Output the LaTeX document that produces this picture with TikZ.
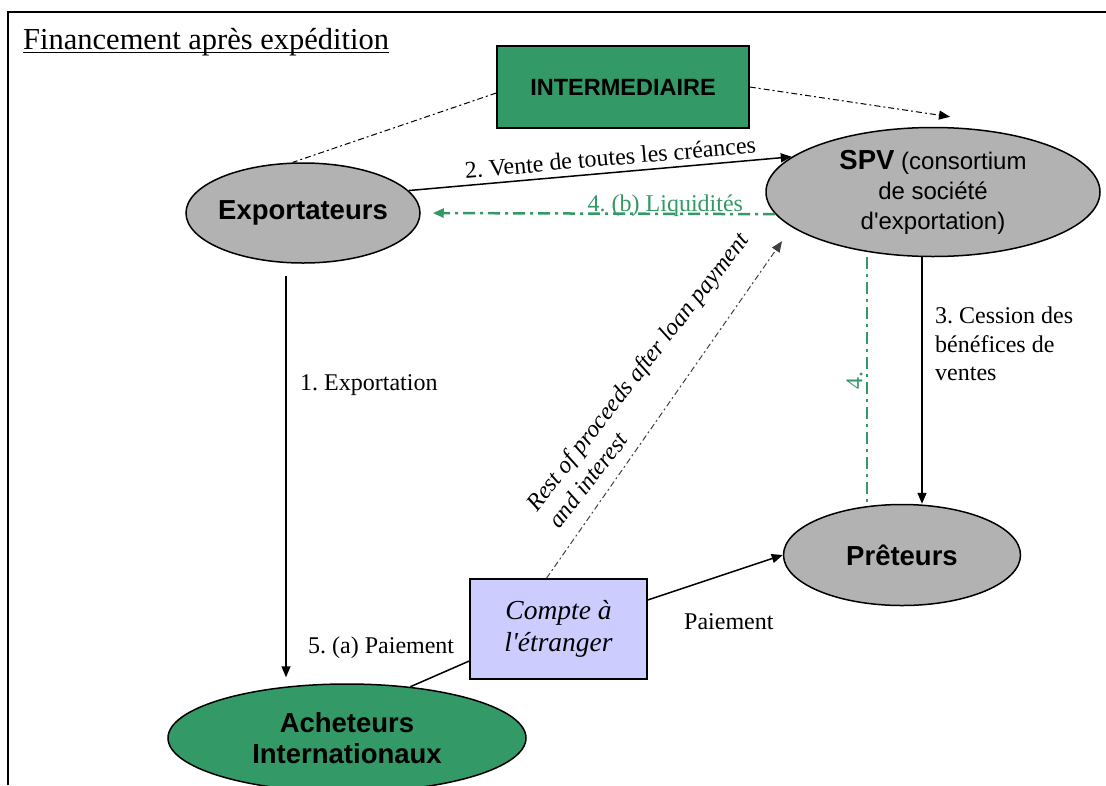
\documentclass[tikz,border=0pt]{standalone}
\usepackage{fontspec}
\setmainfont{Liberation Serif}
\setsansfont{Liberation Sans}
\usetikzlibrary{arrows.meta, shapes.geometric}
\definecolor{xlgreen}{RGB}{51,153,102}
\definecolor{xlgray}{RGB}{178,178,178}
\definecolor{xlblue}{RGB}{204,204,255}
\frenchspacing

\begin{document}
\begin{tikzpicture}[x=1pt,y=-1pt,>={Triangle[length=11pt,width=9pt]},
  oval node/.style={ellipse,draw,line width=1.5pt,fill=xlgray,inner sep=0pt,align=center,
    font=\sffamily\bfseries\fontsize{27.5}{31}\selectfont},
  box node/.style={rectangle,draw,line width=1.5pt,inner sep=0pt,align=center},
  flow/.style={->,line width=1.5pt},
  link/.style={-,line width=1.5pt},
  dotdash/.style={line width=1pt,dash pattern=on 6pt off 3pt on 2pt off 3pt},
  liq/.style={line width=2.5pt,xlgreen,dash pattern=on 12pt off 5pt on 3pt off 5pt},
  plain label/.style={font=\fontsize{24}{28.5}\selectfont,inner sep=0pt}]

    \useasboundingbox (0,0) rectangle (1106,785);
    \draw[line width=1.5pt] (8,785) -- (8,12) -- (1106,12);

    \node[anchor=base west, inner sep=0pt, font=\fontsize{30.5}{36}\selectfont] (title) at (23,49) {Financement après expédition};
    \draw[line width=1.2pt] ([yshift=-3.5pt]title.base west) -- ([yshift=-3.5pt]title.base east);

    \node[box node, fill=xlgreen, minimum width=252pt, minimum height=82pt,
      font=\sffamily\bfseries\fontsize{23.5}{28}\selectfont] (intermed) at (623,87) {INTERMEDIAIRE};
    \node[oval node, minimum width=234pt, minimum height=100pt, inner xsep=-10pt] (expo) at (303,213) {Exportateurs};
    \node[oval node, minimum width=334pt, minimum height=129pt, font=\sffamily\fontsize{24}{30}\selectfont] (spv) at (933,192)
      {{\bfseries\fontsize{27.5}{30}\selectfont SPV} (consortium\\de société\\d\textquotesingle exportation)};
    \node[oval node, minimum width=237pt, minimum height=101pt] (preteurs) at (902,555) {Prêteurs};
    \node[oval node, fill=xlgreen, minimum width=358pt, minimum height=108pt] (acheteurs) at (347,738) {Acheteurs\\Internationaux};
    \node[box node, fill=xlblue, minimum width=177pt, minimum height=100pt,
      font=\itshape\fontsize{27.5}{32}\selectfont] (compte) at (558.5,629) {Compte à\\l\textquotesingle étranger};

    \draw[dotdash] ([yshift=-6pt]intermed.west) -- ([xshift=-10pt]expo.north);
    \draw[dotdash, ->] (intermed.east) -- ([shift={(17pt,10pt)}]spv.north);

    \draw[flow] (expo.12) -- node[plain label, above=6pt, sloped, pos=0.53] {2. Vente de toutes les créances} (spv.166);
    \draw[liq, ->, shorten >=12pt] (spv.188) -- node[plain label, pos=0.31, anchor=base, yshift=2pt, text=xlgreen] {4. (b) Liquidités} (expo.east);

    \draw[flow, shorten >=6pt] ([xshift=-17pt,yshift=-12pt]expo.south) -- ([xshift=-17pt]expo.south |- acheteurs.north);
    \node[plain label, anchor=base west] (lexport) at (300,390) {1. Exportation};

    \draw[flow] ([xshift=-11pt]spv.south) -- ([xshift=-11pt]spv.south |- preteurs.north);
    \node[plain label, anchor=north west, align=left] (lcession) at (935,307) {3. Cession des\\bénéfices de\\ventes};
    \draw[liq] ([xshift=-66pt]spv.south) -- node[plain label, rotate=90, anchor=south, inner sep=3pt, text=xlgreen] {4.}
      ([xshift=-66pt]spv.south |- preteurs.north);

    \draw[dotdash, ->, black!75, shorten >=17pt] ([xshift=-12pt]compte.north) -- (spv.194);
    \node[plain label, font=\itshape\fontsize{24}{28}\selectfont, rotate=52, align=left] (lrest) at (648,380)
      {Rest of proceeds after loan payment\\and interest};

    \draw[flow] ([yshift=29pt]compte.east) -- (preteurs.west);
    \node[plain label, anchor=base west] (lpay) at (684,629) {Paiement};
    \draw[link] (acheteurs.39) -- ([yshift=-32pt]compte.west);
    \node[plain label, anchor=base west] (lpaya) at (308,653) {5. (a) Paiement};

\end{tikzpicture}
\end{document}
